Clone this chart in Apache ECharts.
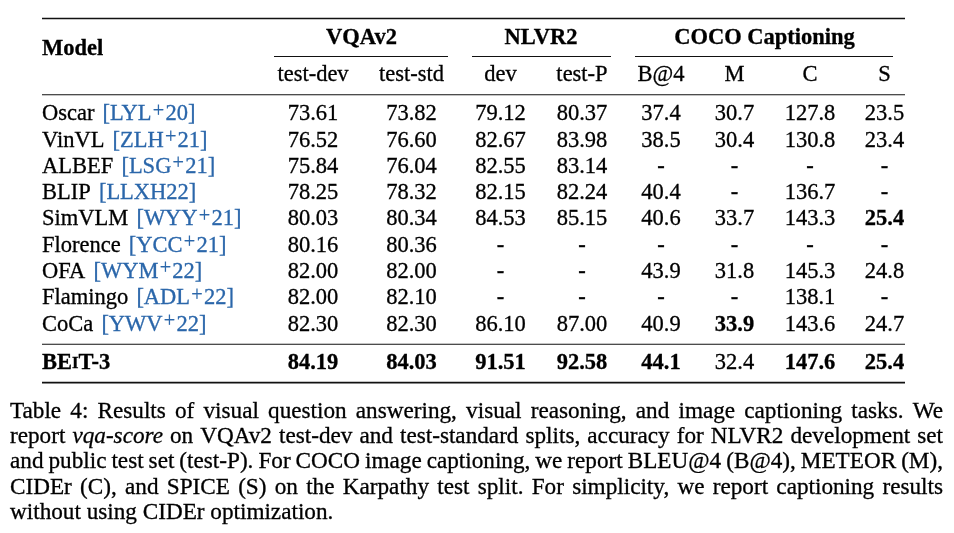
<!DOCTYPE html>
<html><head><meta charset="utf-8">
<script src="https://cdn.jsdelivr.net/npm/echarts@6/dist/echarts.min.js"></script>
<style>html,body{margin:0;padding:0;background:#fff}#c{width:954px;height:533px}</style>
</head><body><div id="c"></div>
<script>
// ---- data ----
const models = ['Oscar','VinVL','ALBEF','BLIP','SimVLM','Florence','OFA','Flamingo','CoCa'];
const cites = ['LYL+20','ZLH+21','LSG+21','LLXH22','WYY+21','YCC+21','WYM+22','ADL+22','YWV+22'];
const ourModel = 'BEiT-3';
const groupHeaders = ['VQAv2','NLVR2','COCO Captioning'];
const subHeaders = ['test-dev','test-std','dev','test-P','B@4','M','C','S'];
const vqaTestDev = [73.61,76.52,75.84,78.25,80.03,80.16,82.00,82.00,82.30];
const vqaTestStd = [73.82,76.60,76.04,78.32,80.34,80.36,82.00,82.10,82.30];
const nlvrDev    = [79.12,82.67,82.55,82.15,84.53,null,null,null,86.10];
const nlvrTestP  = [80.37,83.98,83.14,82.24,85.15,null,null,null,87.00];
const cocoB4     = [37.4,38.5,null,40.4,40.6,null,43.9,null,40.9];
const cocoM      = [30.7,30.4,null,null,33.7,null,31.8,null,33.9];
const cocoC      = [127.8,130.8,null,136.7,143.3,null,145.3,138.1,143.6];
const cocoS      = [23.5,23.4,null,null,25.4,null,24.8,null,24.7];
const beit3      = [84.19,84.03,91.51,92.58,44.1,32.4,147.6,25.4];
const decimals   = [2,2,2,2,1,1,1,1];
const captionLines = [
  'Table 4: Results of visual question answering, visual reasoning, and image captioning tasks. We',
  'report *vqa-score* on VQAv2 test-dev and test-standard splits, accuracy for NLVR2 development set',
  'and public test set (test-P). For COCO image captioning, we report BLEU@4 (B@4), METEOR (M),',
  'CIDEr (C), and SPICE (S) on the Karpathy test split. For simplicity, we report captioning results',
  'without using CIDEr optimization.'
];

// ---- layout ----
const FONT = '"Liberation Serif", "DejaVu Serif", serif';
const FS = 22.5;
const CFS = 23.2;
const SW = 0.3; // slight stroke to match print weight
const colCenters = [313, 411.5, 500.5, 582, 661, 734.5, 810, 884.5];
const bodyTop = 101.15, rowH = 26.3;
const footY = 363.5;
const citeColor = '#2a66aa';
const columns = [vqaTestDev, vqaTestStd, nlvrDev, nlvrTestP, cocoB4, cocoM, cocoC, cocoS];

const grids = [], xAxes = [], yAxes = [], series = [];
function addGrid(left, width, top, height, xcat, ycats, showX) {
  const idx = grids.length;
  grids.push({left, width, top, height, containLabel:false});
  xAxes.push({type:'category', gridIndex:idx, data:[xcat], position:'top',
    axisLine:{show:false}, axisTick:{show:false}, splitLine:{show:false},
    axisLabel:{show:showX, margin: top - 75, verticalAlign:'middle', fontFamily:FONT, fontSize:FS, color:'#000',
      textBorderColor:'#000', textBorderWidth:SW}});
  yAxes.push({type:'category', gridIndex:idx, data:ycats, inverse:true, show:false});
  return idx;
}
function cellSeries(idx, items, align) {
  series.push({type:'scatter', xAxisIndex:idx, yAxisIndex:idx, symbolSize:1,
    itemStyle:{color:'rgba(0,0,0,0)', opacity:1}, silent:true,
    emphasis:{disabled:true},
    data: items,
    label:{show:true, position:'inside', align: align || 'center', verticalAlign:'middle', opacity:1,
      fontFamily:FONT, fontSize:FS, color:'#000', textBorderColor:'#000', textBorderWidth:SW,
      formatter: p => p.data.text,
      rich: {
        n:{fontFamily:FONT, fontSize:FS, color:'#000', lineHeight:26, textBorderColor:'#000', textBorderWidth:SW},
        cb:{fontFamily:FONT, fontSize:FS, color:citeColor, lineHeight:26, padding:[0,0,0,2.5], textBorderColor:citeColor, textBorderWidth:SW},
        c:{fontFamily:FONT, fontSize:FS, color:citeColor, lineHeight:26, textBorderColor:citeColor, textBorderWidth:SW},
        s:{fontFamily:FONT, fontSize:FS*0.9, color:citeColor, lineHeight:19.5, verticalAlign:'top', padding:[0,1.2,0,1.2], textBorderColor:citeColor, textBorderWidth:SW*0.7},
        b:{fontFamily:FONT, fontSize:FS, fontWeight:'bold', color:'#000', lineHeight:26, textBorderColor:'#000', textBorderWidth:SW},
        bs:{fontFamily:FONT, fontSize:FS*0.74, fontWeight:'bold', color:'#000', lineHeight:26, verticalAlign:'middle', textBorderColor:'#000', textBorderWidth:SW}
      }}});
}

// model column
const mIdx = addGrid(42, 2, bodyTop, rowH*models.length, 'Model', models, false);
cellSeries(mIdx, models.map((m,i) => {
  const c = cites[i];
  const cite = c.includes('+') ? `{cb|[${c.split('+')[0]}}{s|+}{c|${c.split('+')[1]}]}` : `{cb|[${c}]}`;
  return {value:[0,i], text:`{n|${m} }${cite}`, label:{offset:[-1,0]}};
}), 'left');
const fIdx = addGrid(42, 2, footY-13, 26, 'Model', [ourModel], false);
cellSeries(fIdx, [{value:[0,0], text:'{b|BE}{bs|I}{b|T-3}', label:{offset:[-1,0]}}], 'left');

columns.forEach((col, c) => {
  const best = Math.max(...col.filter(v => v != null), beit3[c]);
  const g = addGrid(colCenters[c]-30, 60, bodyTop, rowH*models.length, subHeaders[c], models, true);
  cellSeries(g, col.map((v,i) => ({value:[0,i], text: v==null ? '-' : v.toFixed(decimals[c]),
    label:{fontWeight: v===best ? 'bold' : 'normal'}})));
  const g2 = addGrid(colCenters[c]-30, 60, footY-13, 26, subHeaders[c], [ourModel], false);
  const bv = beit3[c];
  cellSeries(g2, [{value:[0,0], text: bv.toFixed(decimals[c]), label:{fontWeight: bv===best ? 'bold':'normal'}}]);
});

// header & rules
const graphics = [];
const line = (x1,x2,y,w) => graphics.push({type:'line', shape:{x1,y1:y,x2,y2:y}, style:{stroke:'#111', lineWidth:w}, silent:true});
line(42, 905, 18.5, 1.7);
line(274, 448, 56.5, 1.1);
line(472, 611, 56.5, 1.1);
line(635, 893, 56.5, 1.1);
line(42, 905, 94.8, 1.1);
line(42, 905, 344.3, 1.1);
line(42, 905, 382.6, 1.7);
const hText = (t,x,y,align) => graphics.push({type:'text', x, y, style:{text:t, font:`bold ${FS}px ${FONT}`, fill:'#000', stroke:'#000', lineWidth:SW, align:align||'center', verticalAlign:'middle'}, silent:true});
hText('Model', 42, 49, 'left');
hText(groupHeaders[0], 361.5, 38);
hText(groupHeaders[1], 541, 38);
hText(groupHeaders[2], 764.5, 38);

// caption, justified
const ctx = document.createElement('canvas').getContext('2d');
const capLeft = 10, capRight = 943, capTop = 411.7, capStep = 25.3;
captionLines.forEach((ln, li) => {
  const words = ln.split(' ').map(w => {
    const it = w.startsWith('*') && w.endsWith('*');
    return {t: it ? w.slice(1,-1) : w, it};
  });
  let total = 0;
  words.forEach(w => { ctx.font = `${w.it?'italic ':''}${CFS}px ${FONT}`; w.w = ctx.measureText(w.t).width; total += w.w; });
  const last = li === captionLines.length - 1;
  ctx.font = `${CFS}px ${FONT}`;
  const gap = last ? ctx.measureText(' ').width : (capRight - capLeft - total) / (words.length - 1);
  let x = capLeft;
  words.forEach(w => {
    graphics.push({type:'text', x, y: capTop + li*capStep, silent:true,
      style:{text:w.t, font:`${w.it?'italic ':''}${CFS}px ${FONT}`, fill:'#000', stroke:'#000', lineWidth:SW, align:'left', verticalAlign:'middle'}});
    x += w.w + gap;
  });
});

const chart = echarts.init(document.getElementById('c'), null, {renderer:'canvas'});
chart.setOption({animation:false, backgroundColor:'#fff', grid:grids, xAxis:xAxes, yAxis:yAxes, series, graphic:graphics});
</script></body></html>
